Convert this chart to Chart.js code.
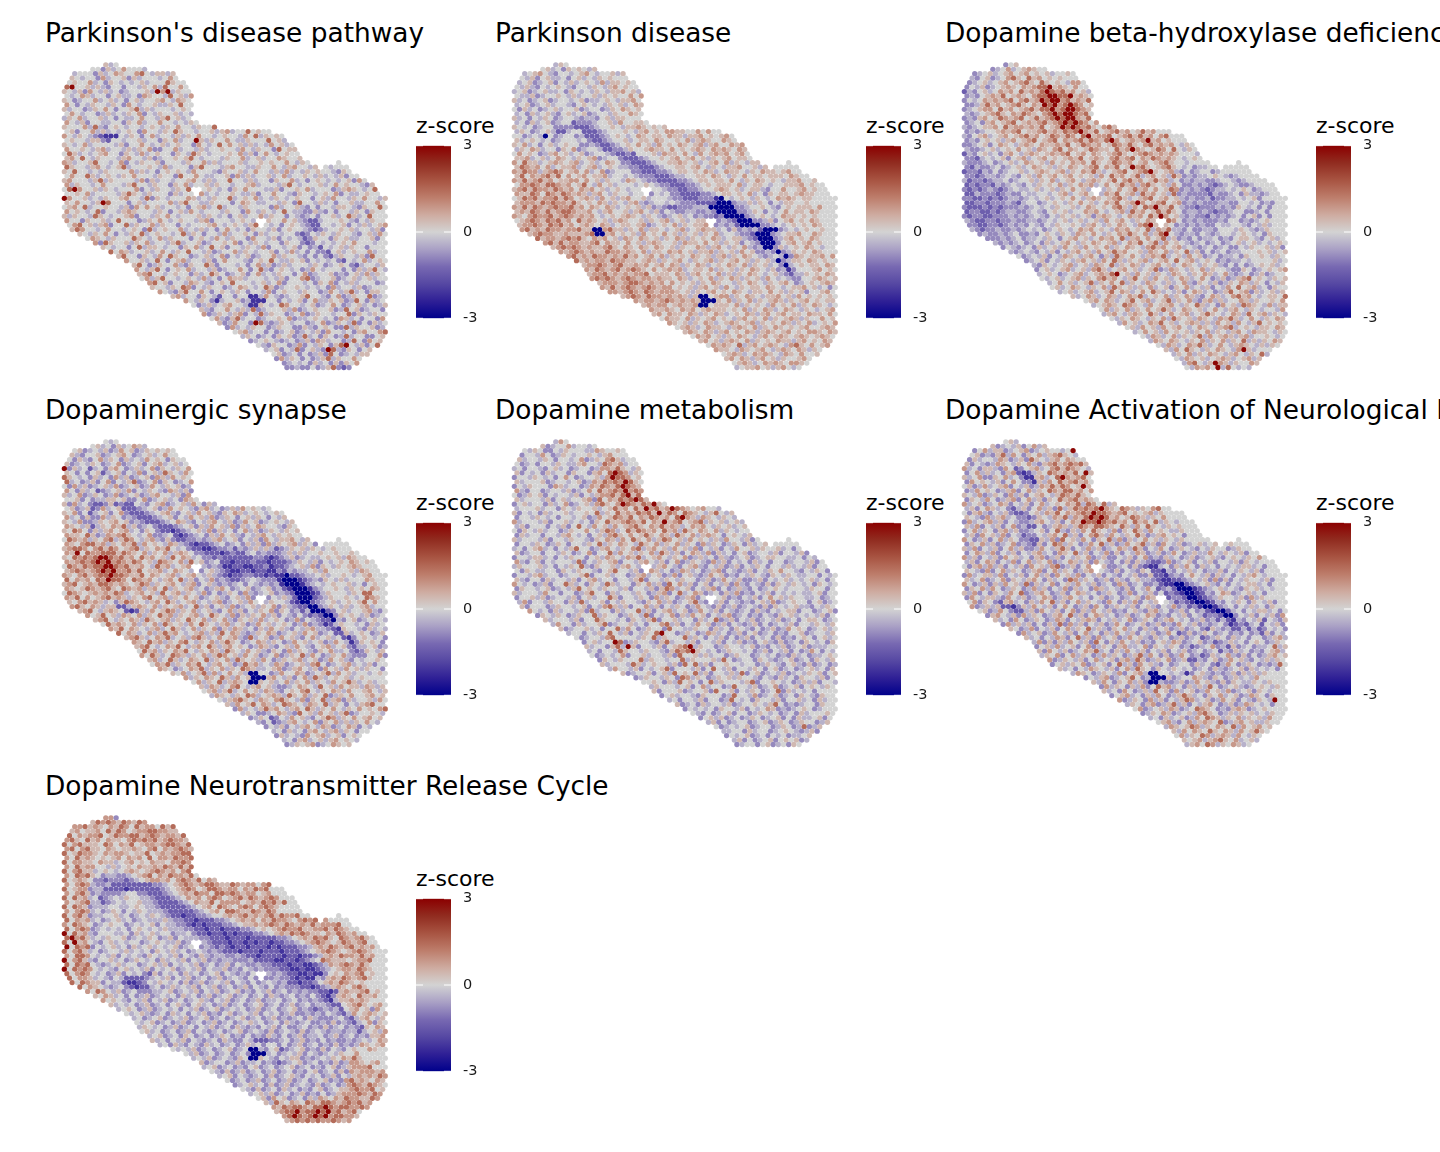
<!DOCTYPE html>
<html lang="en">

<head>
    <meta charset="UTF-8">
    <title>Dopamine pathway z-scores</title>
    <script src="https://cdn.jsdelivr.net/npm/chart.js"></script>
    <style>
        html, body { margin: 0; background: #fff; overflow: hidden; }
        #page { position: relative; width: 1440px; height: 1152px; overflow: hidden; font-family: "DejaVu Sans", sans-serif; color: #000; }
        #page canvas { position: absolute; }
        .title { position: absolute; font-size: 26.4px; line-height: 30px; white-space: nowrap; }
        .legend { position: absolute; font-size: 22px; line-height: 24px; white-space: nowrap; }
    </style>
</head>

<body>
    <div id="page"></div>

    <script>
        const titles = [
            "Parkinson's disease pathway",
            "Parkinson disease",
            "Dopamine beta-hydroxylase deficiency",
            "Dopaminergic synapse",
            "Dopamine metabolism",
            "Dopamine Activation of Neurological Reward System",
            "Dopamine Neurotransmitter Release Cycle"
        ];
        const legendTitle = "z-score";
        const legendTicks = [-3, 0, 3];

        // z-score of each digit used in the panel rows (estimated off the colours)
        const zLevels = [-3, -2.1, -1.4, -0.85, -0.4, 0, 0.4, 0.85, 1.45, 2.9];

        // tissue outline: first and last spot column of each array row
        const rowStart = [8,5,2,1,1,0,0,0,0,0,0,0,0,0,0,0,0,0,0,0,0,0,0,0,0,0,0,0,0,0,0,0,0,0,0,0,1,1,3,4,6,7,9,10,12,13,14,14,15,16,17,18,21,23,25,26,27,28,30,31,33,34,36,37,39,40,41,42,43];
        const rowEnd = [10,15,21,21,23,23,24,24,24,24,24,24,24,25,29,39,42,42,44,44,45,45,53,54,55,56,58,59,60,60,62,61,62,61,62,61,62,61,62,61,62,61,62,61,62,61,62,61,62,61,62,61,62,61,62,61,62,61,62,61,62,61,61,60,59,58,57,56,55];
        // spots without tissue: [row, column]
        const missingSpots = [[28,25],[28,26],[29,25],[35,37],[35,38],[36,38],[22,48],[22,49],[22,50],[22,51],[22,52],[23,49]];

        // one digit per spot, grouped in tens for reading.
        // a row may run past its last column, the extra digits are not drawn
        const panel1 = [
            "645",
            "5536457555 4",
            "4555364576 5578546646",
            "6545537455 6364555457 5",
            "5655745365 4545645558 655",
            "8955646435 5355465748 5575",
            "6546375464 5345556497 94655",
            "5457645535 6445376554 85647",
            "6534557456 4535645567 54765",
            "7535465546 5375455644 65855",
            "6455346575 3556846455 54565",
            "5754553464 5465735465 56454",
            "4657455645 3544575546 85645",
            "7546355445 5365745575 545465",
            "6555748435 6545545654 6575546558",
            "5635574645 4565375546 5865545564 6745585655",
            "7546543211 1546535745 5464657554 5655475846 565",
            "5655466325 5455645536 5745596465 5754465558 564",
            "6545745555 4635575456 4565537545 8575646454 75645",
            "7556546745 5464657335 5745546455 6554754655 38566",
            "5864545675 5365474565 5365486545 5565746357 545655",
            "6758546555 4675546345 5656854555 4655745645 576556",
            "7645568554 5735465563 5554655746 4555645565 6557 5465",
            "8655467545 6845556547 4555368555 4675544655 7546 75546 6545",
            "6585545465 5557464535 6565475554 3655645755 4647 4546565 54365 4",
            "5755864565 4657555465 5385575445 5637464556 45745 565464 546355 5",
            "6755546846 5555473645 5455675464 5585546455 3655745356 545 456375 4",
            "7465545755 5468554655 3657455646 5545567455 5468545556 4575 655436 5",
            "5897556465 4555735465 5465845565 4536575554 4635565745 55346 7 6545 85",
            "5565745555 4686546555 3645577454 5565446355 7554365545 6 5735 44565 5",
            "9755645465 5675548365 4555764546 5584565745 4654565535 6475 5465 75546",
            "6575546985 5535645555 7468554465 5535765445 5465 385546 4535564 4557",
            "5675845565 5463757564 5545356745 8455465555 3745 564353 5546654 36 558",
            "7565458355 4676555465 3564754555 4655375465 4585 4433643 535546 5365",
            "6465548654 5567355465 7545556465 4535645574 6553 54345355 6458645 8 555",
            "7553655645 8555346575 4565546735 5545654636 5575 64322 4 5556 543 54655",
            "5785646735 5846557465 5354555675 4565468454 5356 54322 5545 63546 4 567",
            "6875545755 4565384565 5745464535 7545365546 3565 54 32345 56564 5 54638",
            "6546575354 6584565545 8465355474 5565364554 5532 35465 465 54 356475",
            "5765465558 6545746555 3565475465 5375546354 5423 65536 5 64 4556 3",
            "7386556465 7455468455 6345565735 4654553655 3235 45456 5 7555 4",
            "6545535846 6545536574 5856355465 4735545635 342 5456 4 65535",
            "8576455645 7546585546 3455746545 5635474535 3325 6456 55745",
            "6855365475 8655345645 7354563455 7465543535 3246 55 46385",
            "7556458535 6745546357 5554356585 4465635454 5325 4 57456",
            "6853465574 3655863555 4535746346 4555465345 6532 4 55467",
            "7546853565 7455463455 7535843565 4534754555 3536 46 8546",
            "6785545655 3645865345 6357454655 3573455634 3564 7 4659",
            "5746855456 5474535766 4555454635 5783455634 5645 645 576",
            "7856355476 5435658555 4564573555 4536573546 4555 34 658",
            "6554658735 4655345765 4586345565 4545374554 6345 55 4765",
            "7543685575 3565465355 4735655465 5347546845 366 5 486",
            "6745536542 5535511475 4345568554 3573465583 45 6455",
            "7546531455 6341115535 4563574465 6348536 45566",
            "5346456755 4116545875 5456345753 4564534 655758",
            "6435575464 8345556473 4565563485 63455 35 6547",
            "7346546735 4846553457 3465545583 65465 5 5946",
            "5743684553 4556573445 6545376453 553 7456 85",
            "6347553984 3465455345 7346548353 64 5465 95",
            "3745465534 6553364356 5338465 56 3485",
            "5674553534 5634546375 5453675 5786 45",
            "4653453656 3484536534 8455 33 56856",
            "3456543453 4637645534 8537 5 6755",
            "5436553473 5465368954 63 5864",
            "4563548356 4398436535 6584",
            "5634535346 38534546 65 8",
            "3746535346 8465 5754",
            "3454536453 636 5764",
            "3343353468 3 2345"
        ];
        const panel2 = [
            "465",
            "5645365654 6",
            "4567543554 5675455646",
            "5463564453 5645465655 5",
            "4563456354 6456547466 565",
            "5464354565 4355465467 5655",
            "4563456445 3654546546 67564",
            "5446345565 4645564656 55757",
            "6453456345 5456344565 46675",
            "4563456455 4356545465 64576",
            "5364534564 5563455346 57656",
            "4536456435 6456345546 55765",
            "6453546534 5543443564 66555",
            "4536456345 5233345564 755665",
            "6545345533 3322234556 5466765656",
            "4653456422 4552223455 5654675657 7665575755",
            "5534540534 5534222345 6545765665 7664667565 675",
            "6456545345 5545322345 5645665765 5657467655 765",
            "6574535645 6553343223 4565756475 6576567467 55767",
            "4657645536 5734554223 3465567665 7565676576 76576",
            "5756534675 6456345543 2232555647 6657547567 675675",
            "6674564576 5465673455 3222345565 6756756465 675665",
            "7586645676 5674564576 5332223455 6676564567 5746 5466",
            "6876757456 6745674565 4433222345 5665675465 4667 55646 65",
            "7687746787 5675745734 5553322233 4566565764 5766 5465766 567",
            "6857678685 7567566745 5454333222 3445566576 5465 7566566 6576",
            "7686786756 6775756465 5476543322 2233456656 6575465 7656546 675 56",
            "5778768876 7568547564 5554565433 2223345656 6657 456654556 6675 65",
            "6786877687 6757675645 6545535554 3322334556 7656 4566435575 5 67 56",
            "7668758768 7676467546 5545553545 3322223345 6656 5745365665 6 766 5",
            "5687867786 8756764756 4675564555 4332223331 0545 6546545767 656 65",
            "6777687877 6865657646 5467434554 5433322220 0034 4646535466 5 565",
            "7686876787 7867576576 4565646343 2233344400 0003 3455654356 566 657",
            "6768768678 8766754675 5646754635 4334433430 0003 3465354575 6 6576",
            "7657877867 8767675456 5676546543 4564534332 3000 0345654576 656 56",
            "5678768786 7586765646 7655646567 4564566433 4320 0033463567 5 6576",
            "6778768786 7567657645 6656734565 7465667434 34200 00334545 6565 76",
            "7867687767 7866007866 4657466545 6745676645 3634 34 20003 454565 56",
            "6787766766 6780067565 6475657564 6564657455 433 20003 456675 5765",
            "8677678786 5767564765 7656465764 6565764566 432 00034 675 6576",
            "7868677667 8576657564 6765564766 5756465635 430 003 5675 6756",
            "6787876766 7865765765 7656465576 4675465743 400 36 4565 7654",
            "7678767668 7767657466 5767564667 4656475633 430 34 656 5765",
            "7867687767 6867567574 6565765646 7465765434 540 3 7656 6757",
            "8676776877 6656764656 7546567465 6756465640 34 665 7656",
            "6778767866 7675675764 6576456576 5746564530 4 5656 6576",
            "7687678678 7657567674 5665746564 6576546341 35 556 7565",
            "6778676767 7856665764 6756574646 5765456432 44 65 6576",
            "7878767876 7767665764 5657465764 6564754543 35 56 7656",
            "6777678876 7675756564 6576554657 6546567534 565 6765",
            "7686787678 7677565646 7564754656 6576545667 5645 354 67",
            "7767876876 7776564656 7565765466 5756465635 567 5664",
            "6787687767 6764600567 7465765466 7564756 5656",
            "7677678767 6760006574 6574656764 65 6756 5665",
            "6767756766 7005666574 6565475657 46 5765 4567",
            "7667657675 6766656574 6576457654 654 5676 7",
            "6757665764 6576456576 4675675665 76 6575",
            "5766574656 7565467565 7465676465 5756 75",
            "7656465764 5676567465 6576465745 6576",
            "5676457665 4676574657 6565675 56 7657",
            "6765764675 6576467656 7565 77 6576 57",
            "5767564657 6546756765 6765 6765 5",
            "6756467657 4656576646 75 6576",
            "5767658467 5676547865 7 5676",
            "7665476567 5467657646 5675",
            "5676457676 5476575 56",
            "6757646756 4655 6756",
            "5676457676 577 6565",
            "4566756467 54 5676"
        ];
        const panel3 = [
            "356",
            "3457456765 5",
            "3456456756 7565645565",
            "4356345786 5867565655 5",
            "3456456756 7865865654 775",
            "3546345676 5767889676 5755",
            "2435645767 5867689878 67564",
            "3435676856 7657889988 96765",
            "3545767678 5786798997 86768",
            "3346867567 8657698978 98756",
            "3456775867 5678688978 99876",
            "4345678657 6876578989 98785",
            "3436756876 7856867898 99768",
            "3453675678 5676786789 898757",
            "4345667586 7767685679 8987865786",
            "3434556767 8566786768 7897685678 6756867",
            "4356745675 6786756876 8758967785 6786867578",
            "3435656467 5678567857 6786876897 5676796756",
            "3345635765 4676576676 8568767568 7686578676 75465",
            "4334564565 7564765785 7656876658 6797656875 85465",
            "2435645367 5467656767 8567576567 8656787676 765554",
            "3324545635 6745675656 7685676578 6785768767 654565",
            "4333453456 4576564756 5767586568 7675675678 6 554",
            "3243345345 6457656465 7656785768 5697865678 654534 4",
            "2332435345 5645676567 4657686456 7856789656 7435345534",
            "3323443454 3564756756 7565647586 7568467564 8634344565 4 34",
            "4233234453 4556465745 6754676568 5786756867 4534344334 554 345",
            "2323324345 4354656574 6576745756 8674786564 7533434323 4543 34",
            "3232343234 5445645646 5756467465 7568675756 8734343234 45456 5 34",
            "2243332343 3544554567 4567564768 5674867564 8343333243 34536 443 4",
            "3322323234 4345456456 5754676567 8645678567 5643433423 3445 456 3",
            "2233233343 2455345654 6575645768 5679756785 6734343334 4 3355 45343",
            "3222323233 3434545465 5645765657 8647587966 8543323334 343654 5 353",
            "2332232344 3345435656 4557675456 7486756868 6534434323 345 5 33453",
            "3233223334 3434543546 5645636765 4576758697 5643433243 4345 356 353",
            "4322332334 3344345456 4564564756 7546576698 7534343334 3 5 53 43456",
            "3322332343 4354354655 6546754657 6547896865 3434343354 45 5 43546 4",
            "4323343343 4545345654 5767565476 7565847684 4353344355 54 65 43465",
            "3433434533 4356546547 6575465768 6574689543 4435434554 56 5 45365",
            "3334345344 5465356756 4576758467 5756846343 5344534356 65 43564",
            "4343453453 6456754657 6567457685 6847565434 5345345 6456 45456",
            "3543453645 6475647565 7465765478 6756745434 5345335 465 56463",
            "4345435463 5467564756 8675564765 7465846353 4534455 565 64565",
            "5345463547 6546753648 6575467684 5647563453 445365 5 65465",
            "3456354654 6756475864 6567456758 5674565343 445455 5 56456",
            "4365456745 6476584657 6456756457 6546564353 5345 656 45346",
            "3564567456 4786456756 4568347654 6574655433 653456 56745",
            "4565345674 5676895647 5646547654 6576457434 534634 5 57546",
            "5456456746 5786754685 6475645764 5753463467 856546 56 465",
            "4575645684 6575846547 6546457436 5463465764 653 54 68546",
            "5645765465 7486564657 4563657454 6354758567 453 655 4765",
            "4564567456 8576457586 4546357645 3468567364 56 4657",
            "6457645764 5768456574 6576435764 5786754 56 65865",
            "5675764568 5674568465 7436746455 76465 56 5764",
            "4567658765 4756675465 8645375648 76547 46 6587",
            "5746574657 5686457656 4575467546 545 54 78465",
            "4675467658 6457567456 8654576485 67 4 6546",
            "5465765465 7486564765 4768645754 6 5764 6",
            "4756457685 6456764647 5647546856 5 65 46",
            "5647564756 7545765467 8456 546 6576",
            "4575647565 6465746546 7547 66 5465",
            "5476457465 6847567646 7455 6 54",
            "4765765465 7465746584 646 5765",
            "5476457686 4575467654 6465",
            "6475865465 7654796455 56 5",
            "4657465765 4675465 8456",
            "5476564567 6456 7465",
            "4785469764 65 5764",
            "5476759485 4 5465"
        ];
        const panel4 = [
            "545",
            "5645364576 4",
            "5634546347 5634656565",
            "6435563456 7534564575 5",
            "5364357465 3645475653 655",
            "6345465345 7345635674 5645",
            "9364524536 7534645736 54657",
            "6535356245 6354735648 65475",
            "8654536453 7463456376 47565",
            "8453463573 5468345736 53457",
            "5374634564 7345634754 65634",
            "7536452345 6473546543 76463",
            "6457346534 7345634675 54637",
            "5563534466 5633573456 453765",
            "6374532236 2322543567 3456475364",
            "5634623745 6222345634 7565436745 3464756545",
            "6573524563 5732223456 7435647564 3657645654 565",
            "7453633746 5343222345 6354756473 4653564653 546",
            "6547334656 7563432223 4576435467 5463475634 56546",
            "7654624657 6846345322 2345636475 6473645765 54365",
            "6587536467 5674536532 2123456473 6453574634 654656",
            "7665863476 7865457334 5212345364 7564354675 465655",
            "5876746578 4687546743 6322334346 7456354637 5466 7546",
            "7657886746 5768475654 7643212234 5345364637 4656 74653 5",
            "6788757868 7567846576 8545322112 3342434646 4234 6 56465 45 65",
            "7695877888 6876574657 4676533222 1232245343 3346 4645565 565 56",
            "6587878998 7867586756 4857645332 3222222332 1234 63454 456 5647 65",
            "7678789897 8768756487 6574856345 2212223221 2223 4654635 4565 76 56",
            "5876878899 8786675486 7456753434 3112211223 1223 456473 65465 6 765 5",
            "6787678989 7786856674 5765453564 3211221221 1324 34456475 55564 765",
            "7657867889 8876685765 6745675464 3212233221 2110 2234456455 6545 675",
            "8576758798 8758767546 7584635473 4322345433 3100 0123436 546455 5765",
            "6785676887 6765687465 6754673564 3434535434 3410 0013454565 5645 3 56",
            "7656876786 5876746758 4656745346 7534563456 3421 0001345 565465 6576",
            "5876567676 8745675648 5674654735 3465374345 6343 2000124655 546 5 88",
            "7685756786 7646578567 4657563456 4356473563 5464 200023465 5654 5876",
            "6578676453 6876546758 6456745467 3456475346 5542 1002345 64565 6857",
            "7865764662 2467657465 6745846356 4734564657 3643 22003465 464 5674",
            "6785467652 1264756874 6574564357 4635465736 5342 4000235 645 56743",
            "7568564765 7465867465 6745865473 6465746354 3532 320036 56 54634 5",
            "6785465764 8656746586 5746574365 6474565347 3543 22043 5 634565 4",
            "5867657465 7486564758 6546745634 7564565347 343 12465 5 4536 45",
            "7685765467 4586457465 7364764536 4756435467 443 21655 43645 4",
            "8576457468 6754567464 8576434657 6345647563 452 26456 53465 5",
            "6786457684 5647864575 6743845634 7564357456 452 13 565 4536 45",
            "7658674657 8546574686 5345764653 4756456347 541 3 6565 3456 4",
            "6785457685 4675864675 6534764356 4754356745 632 44 56 345 56",
            "5867465768 5465764865 4756436537 4654365744 532 36 546 23 54",
            "7586458764 6574687564 7563457346 5847534657 433 35 57 354 5",
            "6745864576 5846574865 6475346567 4563475643 545 565 345 45",
            "5768465768 5467563486 7454763456 4785345674 5463 55 34 54",
            "7653457684 6574658764 4567346754 6375647564 655 3456 5",
            "6574568474 5756400553 4755763456 847564 55 45 65",
            "7465765864 7560006754 6357486456 56 4565",
            "5746584676 5006564574 6574654756 864 5645",
            "6476457854 6756433457 6548564756 647 6465",
            "5674684575 6476435657 8546576475 56 7546",
            "4765465874 5676486574 6583465755 6756",
            "5467865476 5786547365 8467364556 4 75 6",
            "6475685764 5876547658 4653 546 78 5",
            "3745468675 4675864657 5465 75 6578",
            "4653345764 3856475646 8345 5 6546",
            "3465235475 6435687465 7567 5645",
            "4352346754 5736574646 57 5465",
            "3546354675 4763457635 4 6545",
            "4536453675 467465 35 5465",
            "3645437567 45635 6 56",
            "4536745646 756 5465",
            "3465673457 656 54 56"
        ];
        const panel5 = [
            "475",
            "6345574554 5",
            "5465335465 5544765565",
            "3554753465 4556546755 5",
            "6455465355 4573465786 455",
            "5345355465 4467554876 7455",
            "4535543564 5345534776 86546",
            "6354536455 3655367589 87465",
            "3554654535 7534556479 88756",
            "6455563455 4563476878 79865",
            "3546555376 4553476876 89876",
            "7435534554 6345758678 79787",
            "5346563545 5463546778 68968",
            "6455546356 4556738576 878986",
            "3564553645 7345647865 7987687965",
            "4555645536 5465564568 6758697867 9876567554",
            "6354536455 6455658465 8676878696 8758765468 546",
            "3554654535 5456347568 7685768767 5897647654 654",
            "7455546355 6454536586 6787685769 6785678465 64564",
            "4635553546 3585475647 5678657686 7645767546 56456",
            "5365464553 4655754687 4586876758 6748657657 465455",
            "3645535546 7545356478 6575686576 4865746765 356546",
            "6455546355 4655436576 4758657468 7564756546 4755 4635",
            "3554653465 3554658465 7654865746 5746537465 3465 36456 5",
            "4535674535 4685534675 4657846756 4756473546 3547 5 56465 56 4535645",
            "6345535546 5345735584 7564657486 4635764736 4535 6345546 35 5463455",
            "3554664535 4655356476 5476845675 4657346453 6434 5 634566 5544 5354",
            "7435635455 5483546567 3554675463 5734654374 6354 53645355 3455 4635",
            "4655564535 4658436556 4675463467 5435674354 6346 354653 5546 4 54 635",
            "5365445536 5465543568 5546357645 3476453467 3543 4635465 7554 35 4653",
            "3554674553 4556835564 5534674563 4735643475 6343 5465436 54654 45 5354",
            "6435536455 4635674553 5546835546 5465534634 7546 3346354 5645 456 4535",
            "7545346355 8645365486 4553657463 8574635635 4637 4354363 65465 4 53 654",
            "3655456345 4685654655 4635546368 7456354673 5346 4353456 5455 5465 5354",
            "6455547553 5534685536 4554653467 3584576345 3647 3435463 54 545 44 5635",
            "3556463455 4635645586 3554653746 5346735745 6343 54635 756465 54 45345",
            "4735546553 6484556354 6554365746 3456843546 3543 4356473 456 55 35 6345",
            "6355534655 4563547864 6355746354 6534754363 4634 5436 3 65456 443 5465",
            "7545364554 6384553645 5846356745 6347546354 3453 6435 4 566 3553 45635",
            "3654653465 5846553465 4835457364 7563546734 5343 543 6 56 454 54635 4",
            "6455546355 8655453654 6835564553 6458346354 634 546 3 45356 65345 5",
            "4755364556 8345564535 5784635475 6346354346 353 4 546 35546 54635",
            "6345564535 5847534655 3855446553 6453654353 463 4 756 5345 64553 5",
            "4553546585 4635465895 5346534764 5346356345 343 5 5 6345 54635 4",
            "5345547855 5546584655 5846535463 5346354536 343 5 65 356 45536 5",
            "3564559834 6554368455 4635546354 6343564363 453 6 5 453 65345 4",
            "6455368496 3554635678 9465534655 4563435463 456 34 4 45 53645 5",
            "4535548655 4655436878 9654534655 4534635463 534 7 5 3546 45635",
            "5345457355 6455463855 6464553465 5345453436 453 44 5 65 53465",
            "3654655584 6554558465 5564853455 3654345634 536 5465 45635",
            "6455548645 6554638584 6355655455 3465435643 634 5345 56345",
            "4755463545 6835554635 8546355465 3563453456 4536 56345",
            "6345563564 8565846355 4648356345 4634 5465 63 56",
            "3465546538 7465346564 6554354364 53 65 546 35",
            "5565364856 5358465554 6835565453 46 4 635 54",
            "4655545635 7455348554 6345734563 5 6 54 65",
            "6355563455 6385563546 5345836 45 4 53 5",
            "3564554365 5534855473 4563453 6 5436",
            "4535546355 3485453655 4635564 53 64",
            "6345364554 6345565468 5343 45 536",
            "3545453655 4635457634 3456 5 345",
            "5435345635 5346545345 3 6455 56",
            "3564634534 6534563536 4 4 5635",
            "4635345534 5634653465 5346",
            "5345456345 5346534 83 465",
            "4455364553 4565434 63",
            "3545634535 4534 4 56",
            "4635345635 65 634",
            "3455356345 3 65 45"
        ];
        const panel6 = [
            "564",
            "6345463574 6",
            "3574663456 7345655459",
            "5634368475 3657467865 4",
            "3645547634 6386546757 655",
            "6354347654 6574367867 8786",
            "7453664375 2356745786 87654",
            "3574645367 2124658767 68596",
            "6457336574 5311674589 76785",
            "3756546357 5331647586 78675",
            "5634745673 5463476868 75696",
            "3475653467 3574658768 86757",
            "6547346537 4635675468 76865",
            "3654753467 3574636586 786765",
            "7456345763 5463574565 7684875846",
            "4635764532 4635746384 6878789765 8764657855",
            "5367435463 2235647685 7678798876 7856567465",
            "6543746745 3323654768 4768989867 5687646575",
            "3745674635 4334675463 5769889878 6758675846 54",
            "6473546357 3422534676 4687688765 8647586546 56",
            "3574653674 6334563584 3647586547 3658647565 4465",
            "4637564735 4233546758 4635786475 4658634675 6535",
            "7534635746 5332264738 5647536584 7364575646 546 5",
            "3657463457 3432635874 6534758463 4756846375 4634 5 6456 456",
            "6473546357 4633475468 6354746345 7648635475 3465 43 5465 5346",
            "3576473546 3546745376 5846354736 3547634634 7534 644 7546 5463",
            "7463546375 6453673463 5465734633 5463573436 4534 6 3456 4356 54657",
            "4635763547 3574657345 7646375435 3636432237 3456 354635 5463 6545",
            "5367474635 4637564783 4635734633 4536321145 3647 536453 5 4546 6453",
            "6543735746 5346735746 5346745436 3543652214 3546 453 446 3546 5463",
            "3745664735 4635746375 6473546354 3546336221 3435 7546 36453 54 6754",
            "6457345736 5467536453 8746534636 4356443211 2234 5463736 35465 5463",
            "7534636475 6483645735 6475463453 7634533421 1002 3456435 354 56 6453",
            "3657475346 5347463547 3645376454 3635475234 2000 1234564 54365 6454",
            "6473536547 5834675346 3576453465 3473546352 3210 0124357 63 45 6453",
            "3754664375 4634576346 7545356345 3456376342 3320 012346 5 5463 7465",
            "5736532674 5364758463 5746543753 6473546354 2321 0012435 46 536 5463",
            "7346462213 6475463575 3463753465 4635643547 3423 1001 34 53546 4536",
            "5634753224 6375463573 6475463435 6436745346 3534 2100 245 3546 6453",
            "3675463746 5346758463 5764534634 5763435463 5423 3200 3 54635 4637",
            "6453753465 3476354676 3546457346 5346754534 6342 421 4 35462 5436",
            "3746463536 4837463546 3475345634 6343754634 345 31 2 32452 5463",
            "6534735463 5746584643 6574536435 6346345326 434 22 4 24235 4536",
            "3745634754 6357453647 5463546347 5236346534 534 3 5 34263 5463",
            "6453547635 8463745634 7564364534 6345234653 645 35 5346 7465",
            "4736364754 6385364754 6343564763 4563423464 535 6 53465 4",
            "3564745635 7346536744 5736546534 2345734263 453 44 58 46 54",
            "6375463457 6845364754 6354635463 4534524364 534 35 6745 5",
            "4657357465 3474653468 4753634753 4236457436 353 46 756 45",
            "7346546357 4563674863 4657346224 3563475643 546 4 65 54",
            "3564657345 6358463756 4353455364 5324753465 3434 856",
            "6453547654 6357486536 5465453453 6434563645 453",
            "4765346547 3567400554 5413564343 4636 4 6465",
            "3546734568 5340006345 5764365346 45 4 75",
            "6475365746 3004334634 7564363654 46 546",
            "3746536473 5867453646 4853456434 5 6546",
            "6453753464 8563745634 7564734563 654",
            "3567453647 5346864536 5745634 7 65 36",
            "7346537463 5468745634 7563543 6 54 9",
            "4653673468 4635467534 634765 45 3",
            "5734564763 4587653436 7634 56",
            "3465763456 4786534646 564 5465",
            "4536456347 5876465746 5 6475",
            "5674357467 6583467564 465",
            "4765687465 7658475675 6",
            "6475765865 764756 8 6",
            "5746587467 6475 4657",
            "6567467865 74 5647",
            "4675874657 6 4567"
        ];
        const panel7 = [
            "773",
            "6878768768 7",
            "7786765768 7586775868",
            "6756675868 7567788776 6",
            "8576778568 7788678767 768",
            "7865867576 6578787867 8776",
            "8578666587 5768567767 88768",
            "7857866576 5667657857 67876",
            "8568776576 7765668567 67788",
            "7586765656 7576758577 68778",
            "8577665766 4567565766 57787",
            "7586775546 4565766768 76868",
            "8578664565 4567656787 67578",
            "7587865344 3345678576 877685",
            "8567653323 3323456776 7578768576",
            "7578743342 2222222334 5678767887 6687677578",
            "8567734422 2212222223 4567875688 7677576878",
            "7578634333 3455332223 4567687758 8787677567",
            "8586745234 5465544322 2345767578 7567868767 87",
            "7567844234 5455644322 2234576685 7777567687 868",
            "8587634445 5445654432 2222345675 8765787578 7655",
            "7578745346 5354654443 2222234567 5887668768 75",
            "8578634455 6453454654 3221223345 5676786767 8 687 78",
            "8576745345 6453454446 4332212223 3456767576 8776 5 7878 67",
            "7587653456 5534545635 4433212122 2334566767 8768767 6 8677 78",
            "8578734545 4535654546 4443322122 1222334565 6787786 67 7868 76",
            "9586743555 4453645645 5344532212 2121222334 5676878 76 65 7687 67",
            "8978645465 5634546534 6354443322 2122212222 2334567 6878 65 876 786",
            "8596754356 4545534565 4463443432 2212212122 1223345 6787 65 6 876 78",
            "9587835456 4536456454 5634543432 3212212221 2122233 4676 87 6 7867 67",
            "8578645345 5464545365 4645345434 3222122212 2212223 4567 87 65 678 76",
            "7588754546 3545436545 4635436434 4334322122 2212212 2346 76 87 768 67",
            "9578643556 4534654536 4546354634 3443334222 2112212 3458 76 665 67 78",
            "8587854345 6455345646 3545463453 4635433433 2221221 1234 76 7 8768 6",
            "9587875454 3564546354 5634546354 4634354343 3322112 1123 45 67 7 68 76",
            "8578754534 6354532635 4536453456 3543435434 3432211 2113 56 5 7678 56",
            "8577645435 4222234546 3546345346 3454353433 4332121 1436 7687 678 65",
            "8587663544 2112354654 5363463454 6354353454 3422122 35 6 76876 56",
            "8576543453 2122453464 5463546345 3463543534 3332212 34 67 6578 65",
            "7587546345 3334456345 4635463456 3435463453 4343322 1 26 76678 56",
            "6576453534 6345453645 3463456345 3453643453 435321 36 76586 67",
            "7565435463 5463453456 4354634534 6344534534 34321 46 6767 65",
            "6454534634 5356435645 3463453456 3453463453 44322 5 67865 67",
            "4565346345 4535463456 3454534634 5345634323 4342 5 67563 75",
            "5456434536 4535463435 6345463545 3463343435 432 47 56765 6",
            "4534563454 6345634534 5634534634 3453643334 532 4 6754 65",
            "5456345346 3453463453 4564534536 4345334363 432 45 7365 56",
            "4654534634 5354634536 4343546353 3453436345 343 26 5764 6",
            "5645345346 3543453456 3454363454 3634543443 442 45 6475 5",
            "4563453653 4534653435 3436435346 3445346345 343 6 67 5675",
            "6453546354 3453643354 2223345346 3435343343 454 5765 65",
            "4536435436 4534534645 3553534634 5343634347 6 5674",
            "5454634534 5634500435 6234563436 35435 655 76",
            "5463453453 4530004534 5463543454 65 57",
            "4546345436 5006543546 6343454657 68 6",
            "6345534634 4534323456 3453436347 765 6 7",
            "4563453435 6345345634 5343563467 7 78",
            "5436346345 3463453435 6345363767 77 678",
            "4563543453 6345643545 3463546767 68 767",
            "5345346345 3463453456 3437 867 6576",
            "3456453634 6345436345 3478 7 68 76",
            "5436345364 5343563456 6787 7 8 567",
            "4564634534 6343534677 787 6 8 76",
            "5637563453 6476576877 6 687",
            "6486576587 6887678786 76",
            "7687887688 9878877 87",
            "6788978898 9786 7 8",
            "7898789897 887 76",
            "6787878778 76 776"
        ];
        const panelRows = [panel1, panel2, panel3, panel4, panel5, panel6, panel7];

        // ggplot style low/mid/high scale sampled in Lab space
        const zStops = [
            [-3, [0, 0, 139]], [-2.4, [47, 32, 150]], [-1.8, [86, 72, 163]], [-1.2, [120, 105, 178]],
            [-0.6, [169, 160, 197]], [0, [211, 211, 211]], [0.6, [206, 171, 160]], [1.2, [189, 125, 107]],
            [1.8, [168, 84, 66]], [2.4, [145, 44, 32]], [3, [139, 0, 0]]
        ];

        function zColor(z) {
            for (let i = 1; i < zStops.length; i++) {
                if (z <= zStops[i][0]) {
                    const [z0, c0] = zStops[i - 1];
                    const [z1, c1] = zStops[i];
                    const t = (z - z0) / (z1 - z0);
                    const c = c0.map((v, j) => Math.round(v + (c1[j] - v) * t));
                    return `rgb(${c[0]},${c[1]},${c[2]})`;
                }
            }
            return 'rgb(139,0,0)';
        }

        function spotsFor(rows) {
            const spots = [];
            rowStart.forEach((first, r) => {
                const digits = (rows[r] || '').replace(/ /g, '');
                for (let c = first; c <= rowEnd[r]; c++) {
                    if (missingSpots.some(m => m[0] === r && m[1] === c)) continue;
                    const d = digits[c - first];
                    spots.push({ x: c + (r % 2 ? 0.5 : 0), y: r, z: zLevels[d === undefined ? 5 : +d] });
                }
            });
            return spots;
        }

        const page = document.getElementById('page');

        function addCanvas(left, top, width, height) {
            const canvas = document.createElement('canvas');
            canvas.width = width;
            canvas.height = height;
            canvas.style.left = left + 'px';
            canvas.style.top = top + 'px';
            canvas.style.width = width + 'px';
            canvas.style.height = height + 'px';
            page.appendChild(canvas);
            return canvas;
        }

        function addText(cls, text, left, top) {
            const div = document.createElement('div');
            div.className = cls;
            div.textContent = text;
            div.style.left = left + 'px';
            div.style.top = top + 'px';
            page.appendChild(div);
        }

        function drawMap(rows, dx, dy) {
            new Chart(addCanvas(55 + dx, 55 + dy, 340, 325), {
                type: 'scatter',
                data: {
                    datasets: [{
                        data: spotsFor(rows),
                        pointRadius: 2.65,
                        pointBorderWidth: 0,
                        pointBackgroundColor: c => zColor(c.raw.z)
                    }]
                },
                options: {
                    responsive: false,
                    animation: false,
                    events: [],
                    plugins: { legend: { display: false }, tooltip: { enabled: false } },
                    scales: {
                        x: { type: 'linear', display: false, min: -1.038, max: 63.11 },
                        y: { type: 'linear', display: false, reverse: true, min: -1.315, max: 69.91 }
                    }
                }
            });
        }

        const barTicks = {
            id: 'barTicks',
            afterDatasetsDraw(chart) {
                if (chart.config.type !== 'bar') return;
                const { ctx, chartArea, scales } = chart;
                const len = (chartArea.right - chartArea.left) / 5;
                ctx.save();
                ctx.strokeStyle = '#fff';
                ctx.lineWidth = 1;
                legendTicks.forEach(t => {
                    const y = scales.y.getPixelForValue(t);
                    ctx.beginPath();
                    ctx.moveTo(chartArea.left, y);
                    ctx.lineTo(chartArea.left + len, y);
                    ctx.moveTo(chartArea.right - len, y);
                    ctx.lineTo(chartArea.right, y);
                    ctx.stroke();
                });
                ctx.restore();
            }
        };

        function barFill(context) {
            const { ctx, chartArea } = context.chart;
            if (!chartArea) return '#d3d3d3';
            const g = ctx.createLinearGradient(0, chartArea.bottom, 0, chartArea.top);
            zStops.forEach(s => g.addColorStop((s[0] + 3) / 6, zColor(s[0])));
            return g;
        }

        function drawLegend(dx, dy) {
            addText('legend', legendTitle, 416 + dx, 114 + dy);
            new Chart(addCanvas(416 + dx, 133 + dy, 85, 198), {
                type: 'bar',
                data: {
                    labels: [legendTitle],
                    datasets: [{
                        data: [[-3, 3]],
                        backgroundColor: barFill,
                        barPercentage: 1,
                        categoryPercentage: 1
                    }]
                },
                options: {
                    responsive: false,
                    animation: false,
                    events: [],
                    layout: { padding: { top: 10, bottom: 10 } },
                    plugins: { legend: { display: false }, tooltip: { enabled: false } },
                    scales: {
                        x: { display: false },
                        y: {
                            position: 'right',
                            min: -3,
                            max: 3,
                            grid: { display: false },
                            border: { display: false },
                            afterBuildTicks: s => { s.ticks = legendTicks.map(v => ({ value: v })); },
                            afterFit: s => { s.width = 50; },
                            ticks: {
                                padding: 4,
                                crossAlign: 'near',
                                color: '#1a1a1a',
                                font: { family: '"DejaVu Sans"', size: 14.5 }
                            }
                        }
                    }
                }
            });
        }

        Chart.register(barTicks);
        panelRows.forEach((rows, i) => {
            const dx = (i % 3) * 450;
            const dy = Math.floor(i / 3) * 376.5;
            addText('title', titles[i], 45 + dx, 18 + dy);
            drawMap(rows, dx, dy);
            drawLegend(dx, dy);
        });
    </script>
</body>

</html>
